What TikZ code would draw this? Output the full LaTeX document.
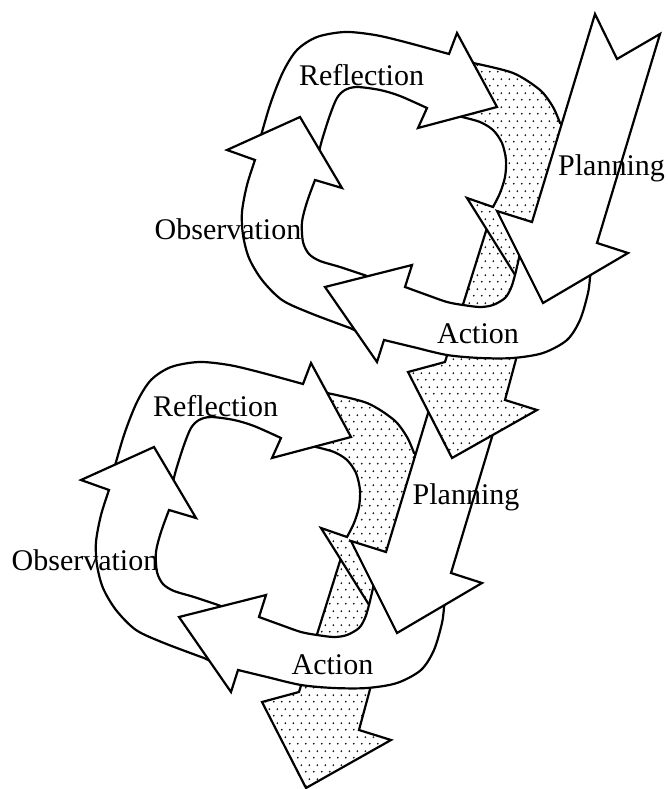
\documentclass[tikz,border=0pt]{standalone}
\usepackage{fontspec}
\setmainfont{Liberation Serif}
\usetikzlibrary{patterns}
\pgfdeclarepatternformonly{stipple}{\pgfqpoint{0pt}{0pt}}{\pgfqpoint{8pt}{14pt}}{\pgfqpoint{8pt}{14pt}}{%
  \pgfpathcircle{\pgfqpoint{2pt}{3.5pt}}{1.05pt}%
  \pgfpathcircle{\pgfqpoint{6pt}{10.5pt}}{1.05pt}%
  \pgfusepath{fill}}
\tikzset{
  blockarrow/.style={draw=black, line width=2.2pt, fill=white, line join=miter},
  stipplearrow/.style={draw=black, line width=2.2pt, preaction={fill=white}, pattern=stipple, line join=miter},
  cyctext/.style={inner sep=0pt, font=\fontsize{30}{36}\selectfont, anchor=base}
}
\newcommand{\cycleparts}{%
  % stippled strip with arrowhead (back)
  \path[stipplearrow] (491,215) -- (445,362) -- (408,372) -- (452,458) -- (537,410) -- (505,400) -- (515,363) -- (550,228) -- cycle;
  % stippled curved band with head
  \path[stipplearrow] (450,70) -- (473,63) -- plot[smooth] coordinates {(473,63) (513,73) (540,90) (553,107) (560,123)} -- (592,140) -- (578,235) -- (537,310) -- (467,198) -- (493,207) -- plot[smooth] coordinates {(493,207) (500,193) (505,177) (506,160) (502,143) (493,130) (480,122) (462,117)} -- (440,112) -- cycle;
  % Reflection
  \path[blockarrow] (257,150) -- plot[smooth] coordinates {(257,150) (270,105) (283,72) (297,50) (317,37) (345,32) (375,35) (405,42) (449,54)} -- (457,33) -- (497,107) -- (418,128) -- (427,108) -- plot[smooth] coordinates {(427,108) (400,96) (380,90) (357,87) (345,90) (337,98) (330,115) (322,140) (317,160)} -- cycle;
  % Observation
  \path[blockarrow] (365,335) -- plot[smooth] coordinates {(350,328) (310,313) (282,300) (262,280) (249,258) (243,235) (242,212) (247,185) (255,160)} -- (227,150) -- (300,117) -- (342,188) -- (315,180) -- plot[smooth] coordinates {(315,180) (307,202) (302,222) (303,242) (309,254) (320,261) (340,267) (367,276)} -- (378,285) -- cycle;
  % Action
  \path[blockarrow] (325,287) -- (412,265) -- (405,287) -- plot[smooth] coordinates {(405,287) (427,295) (447,302) (463,305) (480,307) (493,305) (505,298) (511,288) (515,275) (519,258)} -- (522,238) -- (597,255) -- (590,277) -- plot[smooth] coordinates {(590,277) (588,293) (580,320) (567,340) (543,353) (513,358) (480,358) (447,355) (413,347) (384,340)} -- (377,362) -- cycle;
}
\begin{document}
\begin{tikzpicture}[x=1pt,y=-1pt]
  \useasboundingbox (0,0) rectangle (667,789);
  \fill[white] (0,0) rectangle (667,789);
  % lower cycle
  \begin{scope}[shift={(-146,330)}]
    \cycleparts
    \path[blockarrow] (576.5,75) -- (644.6,85) -- (597,243) -- (628,253) -- (543,303) -- (497,211) -- (532,222) -- cycle;
  \end{scope}
  % upper cycle
  \cycleparts
  \path[blockarrow] (595,14) -- (617,59) -- (660,34) -- (597,243) -- (628,253) -- (543,303) -- (497,211) -- (532,222) -- cycle;
  % labels
  \node[cyctext] (refl1) at (361.5,86) {Reflection};
  \node[cyctext] (obs1) at (228,239) {Observation};
  \node[cyctext] (plan1) at (611.5,175) {Planning};
  \node[cyctext] (act1) at (478,343) {Action};
  \node[cyctext] (refl2) at (215.5,416) {Reflection};
  \node[cyctext] (obs2) at (85,570) {Observation};
  \node[cyctext] (plan2) at (466,504) {Planning};
  \node[cyctext] (act2) at (332.5,674) {Action};
\end{tikzpicture}
\end{document}
